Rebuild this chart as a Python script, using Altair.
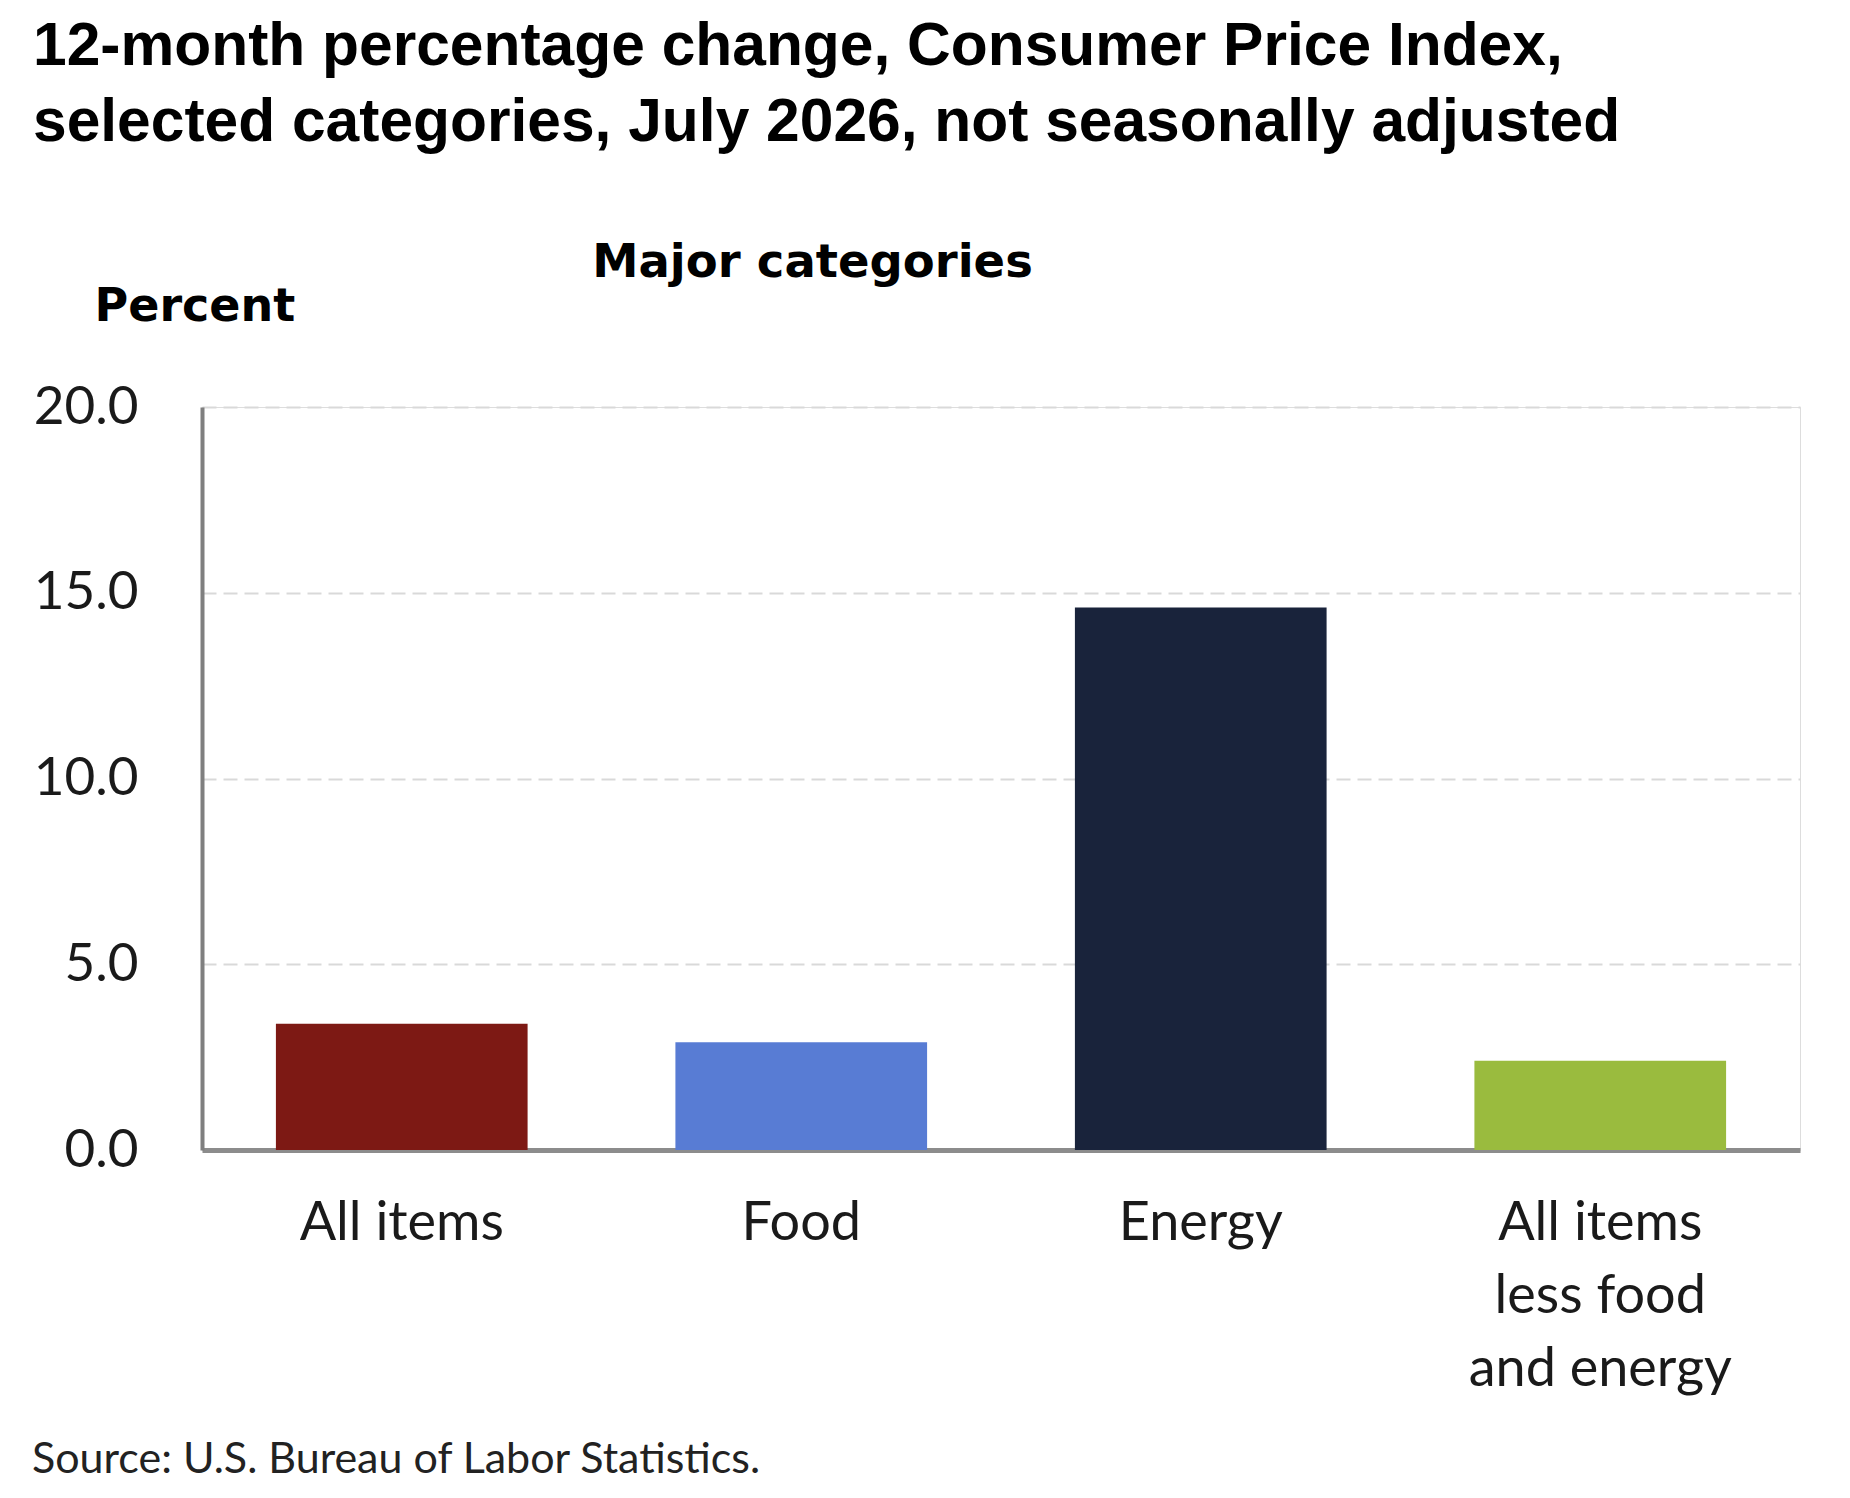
import altair as alt
import pandas as pd

# ---- data ----
categories = ["All items", "Food", "Energy", "All items less food and energy"]
values = [3.4, 2.9, 14.6, 2.4]
bar_colors = ["#7D1914", "#587CD4", "#19233B", "#9ABB3E"]
label_lines = [["All items"], ["Food"], ["Energy"], ["All items", "less food", "and energy"]]
y_ticks = [0, 5, 10, 15, 20]
title_lines = [
    "12-month percentage change, Consumer Price Index,",
    "selected categories, July 2026, not seasonally adjusted",
]
source_note = ["Source: U.S. Bureau of Labor Statistics."]

df = pd.DataFrame({"category": categories, "value": values})

# multi-line x labels
parts = []
for cat, lines in zip(categories, label_lines):
    arr = "[" + ",".join("'" + l + "'" for l in lines) + "]"
    parts.append(f"datum.label == '{cat}' ? {arr} : ")
label_expr = "".join(parts) + "datum.label"

PLOT_W = 1598
PLOT_H = 743

bars = alt.Chart(df).mark_bar().encode(
    x=alt.X(
        "category:N",
        sort=categories,
        scale=alt.Scale(paddingInner=0.37, paddingOuter=0.185),
        axis=alt.Axis(
            title="Major categories",
            titleFont="DejaVu Sans",
            titleFontWeight="bold",
            titleFontSize=46.5,
            titleColor="#000000",
            titleAlign="center",
            titleBaseline="alphabetic",
            titleX=610,
            titleY=-874,
            labelExpr=label_expr,
            labelAngle=0,
            labelFont="Lato",
            labelFontSize=54,
            labelColor="#1a1a1a",
            labelLineHeight=73,
            labelPadding=46,
            labelBaseline="top",
            labelLimit=0,
            ticks=False,
            domainColor="#8c8c8c",
            domainWidth=5,
        ),
    ),
    y=alt.Y(
        "value:Q",
        scale=alt.Scale(domain=[0, 20], nice=False),
        axis=alt.Axis(
            values=y_ticks,
            format=".1f",
            title="Percent",
            titleFont="DejaVu Sans",
            titleFontWeight="bold",
            titleFontSize=46,
            titleColor="#000000",
            titleAngle=0,
            titleAlign="left",
            titleBaseline="alphabetic",
            titleX=-108,
            titleY=-87,
            labelFont="Lato",
            labelFontSize=53,
            labelColor="#1a1a1a",
            labelPadding=64,
            ticks=False,
            domainColor="#7f7f7f",
            domainWidth=4,
            grid=True,
            gridColor="#d9d9d9",
            gridWidth=2,
            gridDash=[14, 7],
        ),
    ),
    color=alt.Color(
        "category:N",
        scale=alt.Scale(domain=categories, range=bar_colors),
        legend=None,
    ),
)

src = alt.Chart(pd.DataFrame({"t": source_note})).mark_text(
    align="left", baseline="alphabetic", font="Lato", fontSize=43, color="#222222"
).encode(text="t:N", x=alt.value(-170), y=alt.value(1066))

chart = alt.layer(bars, src).properties(
    width=PLOT_W,
    height=PLOT_H,
    title=alt.TitleParams(
        text=title_lines,
        anchor="start",
        frame="group",
        font="Liberation Sans",
        fontWeight="bold",
        fontSize=60.5,
        lineHeight=76,
        color="#000000",
        dx=-169,
        dy=-86,
        offset=0,
    ),
    padding={"left": 194, "top": 399, "right": 40, "bottom": 338},
    autosize=alt.AutoSizeParams(type="none"),
).configure_view(stroke=None).configure(background="white")

chart.save("out.html", embed_options={"renderer": "svg", "actions": False})
